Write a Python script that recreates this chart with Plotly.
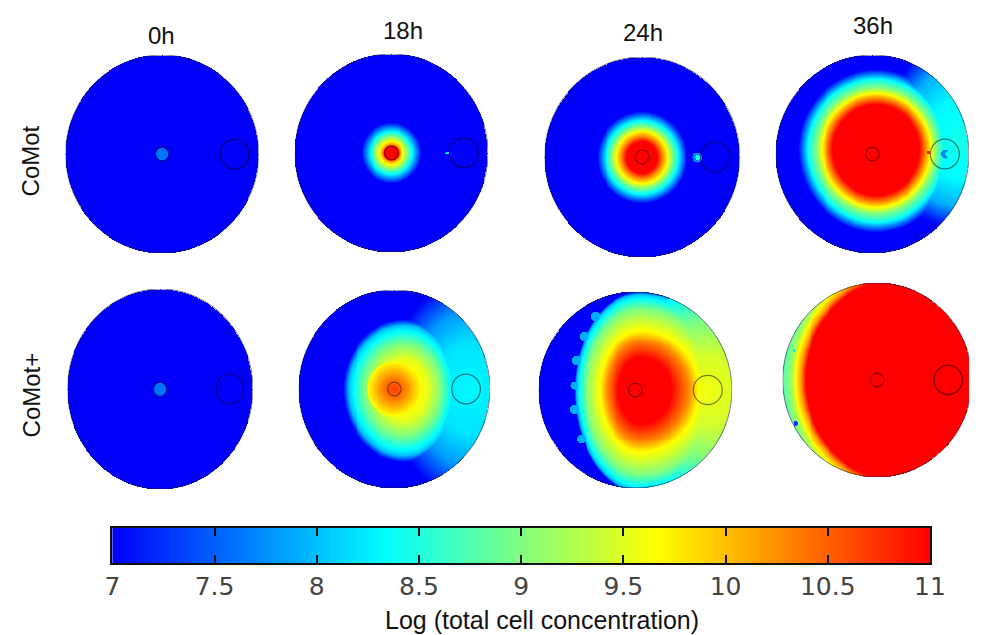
import numpy as np
import plotly.graph_objects as go

W, H = 985, 635

# ---------------- data ----------------
time_labels = ["0h", "18h", "24h", "36h"]
strain_labels = ["CoMot", "CoMot+"]
cbar_tickvals = [7, 7.5, 8, 8.5, 9, 9.5, 10, 10.5, 11]
cbar_ticktext = ["7", "7.5", "8", "8.5", "9", "9.5", "10", "10.5", "11"]
cbar_title = "Log (total cell concentration)"
zmin, zmax = 7.0, 11.0
background = 7.0

# radial profiles (distance in plate radii -> log concentration)
# CoMot 0h
p1_spot_r = [0, 0.065, 0.075]
p1_spot_v = [7.6, 7.6, 7.0]
# CoMot 18h
p2_core_r = [0, 0.075, 0.09, 0.12, 0.17, 0.22, 0.31]
p2_core_v = [11.0, 11.0, 10.2, 9.7, 9.0, 8.3, 7.0]
# CoMot 24h
p3_core_r = [0, 0.16, 0.21, 0.26, 0.31, 0.37, 0.46]
p3_core_v = [11.0, 11.0, 10.3, 9.7, 9.0, 8.3, 7.0]
# CoMot 36h
p4_core_r = [0, 0.45, 0.51, 0.56, 0.62, 0.7, 0.8]
p4_core_v = [11.0, 11.0, 10.3, 9.7, 9.0, 8.4, 7.0]
p4_plume_r = [0, 0.35, 0.6, 0.8]
p4_plume_v = [8.45, 8.3, 7.9, 7.0]
# CoMot+ 0h
p5_spot_r = [0, 0.065, 0.075]
p5_spot_v = [7.6, 7.6, 7.0]
# CoMot+ 18h
p6_core_r = [0, 0.1, 0.2, 0.28, 0.33]
p6_core_v = [10.7, 10.4, 10.0, 9.65, 7.0]
p6_halo_r = [0, 0.3, 0.45, 0.58, 0.64, 0.7]
p6_halo_v = [9.8, 9.55, 9.0, 8.35, 8.0, 7.0]
p6_plume_r = [0, 0.35, 0.6, 0.85]
p6_plume_v = [8.3, 8.2, 7.8, 7.0]
# CoMot+ 24h
p7_core_r = [0, 0.33, 0.5, 0.6, 0.7, 0.82, 0.92, 0.97, 1.0]
p7_core_v = [11.0, 11.0, 10.3, 9.7, 9.4, 9.0, 8.4, 8.0, 7.0]
p7_plume_r = [0, 0.3, 0.6, 0.9]
p7_plume_v = [9.6, 9.45, 9.0, 8.3]
# CoMot+ 36h
p8_main_r = [0, 0.93, 0.98, 1.03, 1.08, 1.16, 1.3]
p8_main_v = [11.0, 11.0, 10.2, 9.7, 9.2, 8.8, 8.5]

# small local patches: (x, y, radius, value)
p2_specks = [(0.58, 0.0, 0.02, 8.3)]
p3_specks = [(0.57, 0.0, 0.05, 7.7), (0.575, 0.0, 0.025, 8.5)]
p4_specks = [(0.76, 0.0, 0.05, 7.7), (0.79, 0.0, 0.035, 8.4), (0.58, 0.02, 0.015, 10.8)]
p7_specks = [(-0.61, 0.3, 0.045, 7.9), (-0.63, -0.2, 0.045, 7.9), (-0.53, 0.55, 0.045, 7.9),
             (-0.56, -0.5, 0.045, 7.9), (-0.41, 0.75, 0.045, 7.9), (-0.63, 0.05, 0.04, 7.9)]
p8_specks = [(-0.93, 0.55, 0.025, 7.3), (-0.86, -0.45, 0.025, 7.3), (-0.88, 0.3, 0.02, 8.2)]

# ---------------- field model per panel ----------------
# component: (cx, cy, scale_left, scale_right, scale_up, scale_down, r, v)
panels = [
    ([(0, 0, 1, 1, 1, 1, p1_spot_r, p1_spot_v)], []),
    ([(0, 0, 1, 1, 1, 1, p2_core_r, p2_core_v)], p2_specks),
    ([(0, 0, 1, 1, 1, 1, p3_core_r, p3_core_v)], p3_specks),
    ([(0.04, 0.05, 1, 1, 1, 1.05, p4_core_r, p4_core_v),
      (0.9, 0.1, 1, 1, 1.3, 1.05, p4_plume_r, p4_plume_v)], p4_specks),
    ([(0, 0, 1, 1, 1, 1, p5_spot_r, p5_spot_v)], []),
    ([(0, 0, 1, 1, 1, 1, p6_core_r, p6_core_v),
      (0.1, 0, 0.9, 0.85, 1, 1.05, p6_halo_r, p6_halo_v),
      (0.8, 0, 1, 1, 1.3, 1.3, p6_plume_r, p6_plume_v)], []),
    ([(0.05, 0.0, 0.68, 1, 1, 1.05, p7_core_r, p7_core_v),
      (0.75, 0, 1, 1, 1.15, 1.15, p7_plume_r, p7_plume_v)], p7_specks),
    ([(0.175, 0, 1, 1, 1.1, 1.1, p8_main_r, p8_main_v)], p8_specks),
]

# panel geometry in pixels: centre x, centre y, radius x, radius y
geom = [
    (158, 154, 99, 99), (393, 153, 99, 99), (650, 157, 100, 100), (886, 154, 99, 99),
    (156, 389, 95, 100), (396, 389, 98, 99), (643, 390, 99, 98), (891, 380, 97, 97),
]

N = 201
g = np.linspace(-1, 1, N)
X, Y = np.meshgrid(g, g)


def build_field(comps, specks):
    Z = np.full_like(X, background)
    for cx, cy, sl, sr, su, sd, rr, vv in comps:
        dx = X - cx
        dy = Y - cy
        sx = np.where(dx > 0, sr, sl)
        sy = np.where(dy > 0, su, sd)
        R = np.sqrt((dx / sx) ** 2 + (dy / sy) ** 2)
        Z = np.maximum(Z, np.interp(R, rr, vv, right=background))
    for sxp, syp, rad, val in specks:
        Z[(X - sxp) ** 2 + (Y - syp) ** 2 <= rad ** 2] = val
    Z[X ** 2 + Y ** 2 > 1.0] = np.nan
    return np.round(Z, 2)


colorscale = [[0.0, "rgb(0,0,250)"], [1 / 3, "rgb(0,255,255)"],
              [2 / 3, "rgb(255,255,0)"], [1.0, "rgb(255,0,0)"]]

fig = go.Figure()
layout_axes = {}
shapes = []
for i, ((comps, specks), (cx, cy, rx, ry)) in enumerate(zip(panels, geom), start=1):
    Z = build_field(comps, specks)
    fig.add_trace(go.Heatmap(x=g, y=g, z=Z, colorscale=colorscale, zmin=zmin, zmax=zmax,
                             showscale=False, hoverinfo="skip",
                             xaxis=f"x{i}", yaxis=f"y{i}"))
    x0p, x1p = cx - rx, cx + rx
    xr1 = 1.0
    if x1p > W:
        xr1 = (W - cx) / rx
        x1p = W
    sfx = "" if i == 1 else str(i)
    layout_axes[f"xaxis{sfx}"] = dict(domain=[x0p / W, x1p / W], range=[-1, xr1],
                                     visible=False, fixedrange=True)
    layout_axes[f"yaxis{sfx}"] = dict(domain=[(H - (cy + ry)) / H, (H - (cy - ry)) / H],
                                     range=[-1, 1], visible=False, fixedrange=True)
    xr, yr = f"x{i}", f"y{i}"
    shapes.append(dict(type="circle", xref=xr, yref=yr, x0=-1, x1=1, y0=-1, y1=1,
                       line=dict(color="rgba(30,30,60,0.6)", width=1)))
    shapes.append(dict(type="circle", xref=xr, yref=yr, x0=-0.07, x1=0.07, y0=-0.07, y1=0.07,
                       line=dict(color="rgba(0,0,0,0.45)", width=1.2)))
    shapes.append(dict(type="circle", xref=xr, yref=yr, x0=0.6, x1=0.9, y0=-0.15, y1=0.15,
                       line=dict(color="rgba(0,0,0,0.5)", width=1.2)))

# colour bar as its own subplot
cb_x = np.linspace(zmin, zmax, 400)
fig.add_trace(go.Heatmap(x=cb_x, y=[0, 1], z=[cb_x, cb_x], colorscale=colorscale,
                         zmin=zmin, zmax=zmax, showscale=False, hoverinfo="skip",
                         xaxis="x9", yaxis="y9"))
cb_left, cb_right, cb_top, cb_bot = 107, 945, 528, 563
layout_axes["xaxis9"] = dict(domain=[cb_left / W, cb_right / W], range=[zmin, zmax],
                             tickvals=cbar_tickvals, ticktext=cbar_ticktext,
                             ticks="inside", ticklen=8, tickwidth=2, tickcolor="#111",
                             showline=True, linewidth=2, linecolor="#111", mirror="ticks",
                             showgrid=False, zeroline=False, fixedrange=True,
                             tickfont=dict(family="DejaVu Sans", size=25, color="#444"),
                             anchor="y9")
layout_axes["yaxis9"] = dict(domain=[(H - cb_bot) / H, (H - cb_top) / H], range=[-0.5, 1.5],
                             showline=True, linewidth=2, linecolor="#111", mirror=True,
                             showticklabels=False, ticks="", showgrid=False, zeroline=False,
                             fixedrange=True, anchor="x9")

font_main = "Liberation Sans, Arial, sans-serif"
annotations = []
for lbl, (px, py) in zip(time_labels, [(157, 36), (405, 30), (651, 32), (887, 25)]):
    annotations.append(dict(text=lbl, x=px / W, y=1 - py / H, xref="paper", yref="paper",
                            showarrow=False, xanchor="center", yanchor="middle",
                            font=dict(family=font_main, size=24, color="#111")))
for lbl, (px, py) in zip(strain_labels, [(23, 161), (24, 395)]):
    annotations.append(dict(text=lbl, x=px / W, y=1 - py / H, xref="paper", yref="paper",
                            showarrow=False, xanchor="center", yanchor="middle", textangle=-90,
                            font=dict(family=font_main, size=24, color="#111")))
annotations.append(dict(text=cbar_title, x=547 / W, y=1 - 620 / H, xref="paper", yref="paper",
                        showarrow=False, xanchor="center", yanchor="middle",
                        font=dict(family=font_main, size=25, color="#111")))

fig.update_layout(width=W, height=H, margin=dict(l=0, r=0, t=0, b=0),
                  paper_bgcolor="white", plot_bgcolor="white", showlegend=False,
                  shapes=shapes, annotations=annotations, **layout_axes)

fig.write_html("out.html", config={"displayModeBar": False})
